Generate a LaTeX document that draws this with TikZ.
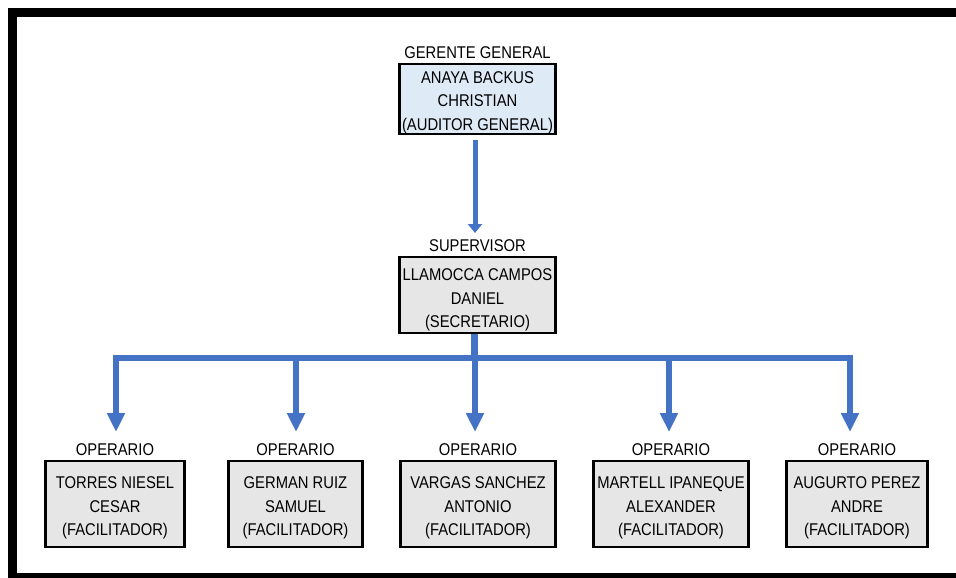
\documentclass[tikz,border=0pt]{standalone}
\usepackage{fontspec}
\setmainfont[FakeStretch=0.87]{Liberation Sans}
\usetikzlibrary{arrows.meta}
\definecolor{linkblue}{HTML}{4472C4}
\definecolor{headfill}{HTML}{DEEBF7}
\definecolor{staffill}{HTML}{E7E6E6}
\tikzset{
  txt/.style={font=\fontsize{17pt}{23.5pt}\selectfont, align=center, inner sep=0pt},
  card/.style={draw=black, line width=2.6pt, inner sep=0pt},
  headcard/.style={card, fill=headfill},
  staffcard/.style={card, fill=staffill},
  role/.style={txt, anchor=base},
  mainlink/.style={draw=linkblue, line width=5pt, -{Triangle[width=14pt,length=9pt]}},
  branchlink/.style={draw=linkblue, line width=6.5pt, line join=miter,
    -{Triangle[width=17pt,length=19pt]}},
}
\begin{document}
\begin{tikzpicture}[x=1pt, y=-1pt]
\clip (0,0) rectangle (956,578);
\fill[white] (0,0) rectangle (956,578);
% outer frame (its right side lies past the page edge)
\draw[line width=9pt] (12.5,12.5) rectangle (970,577.5);

% management
\node[headcard, minimum width=156pt, minimum height=70pt] (gerente) at (477.5,99) {};
\node[txt] (gerenteText) at ([yshift=-3.5pt]gerente.center)
  {ANAYA BACKUS\\CHRISTIAN\\(AUDITOR GENERAL)};
\node[role] (gerenteRole) at ([yshift=4.5pt]gerente.north) {GERENTE GENERAL};

\node[staffcard, minimum width=156pt, minimum height=76pt] (super) at (477.5,295) {};
\node[txt] (superText) at ([yshift=-5pt]super.center)
  {LLAMOCCA CAMPOS\\DANIEL\\(SECRETARIO)};
\node[role] (superRole) at ([yshift=4.5pt]super.north) {SUPERVISOR};

% operators
\node[staffcard, minimum width=139pt, minimum height=86pt] (op1) at (115,504) {};
\node[staffcard, minimum width=134pt, minimum height=86pt] (op2) at (295.5,504) {};
\node[staffcard, minimum width=155pt, minimum height=86pt] (op3) at (478,504) {};
\node[staffcard, minimum width=155pt, minimum height=86pt] (op4) at (671,504) {};
\node[staffcard, minimum width=141pt, minimum height=86pt] (op5) at (857,504) {};
\node[txt] (op1Text) at ([yshift=-4pt]op1.center) {TORRES NIESEL\\CESAR\\(FACILITADOR)};
\node[txt] (op2Text) at ([yshift=-4pt]op2.center) {GERMAN RUIZ\\SAMUEL\\(FACILITADOR)};
\node[txt] (op3Text) at ([yshift=-4pt]op3.center) {VARGAS SANCHEZ\\ANTONIO\\(FACILITADOR)};
\node[txt] (op4Text) at ([yshift=-4pt]op4.center) {MARTELL IPANEQUE\\ALEXANDER\\(FACILITADOR)};
\node[txt] (op5Text) at ([yshift=-4pt]op5.center) {AUGURTO PEREZ\\ANDRE\\(FACILITADOR)};
\foreach \i in {1,...,5}
  \node[role] (op\i Role) at ([yshift=4.5pt]op\i.north) {OPERARIO};

% arrow tips above each operator
\coordinate (tip1) at (116,432);
\coordinate (tip2) at (296,432);
\coordinate (tip3) at (475,432);
\coordinate (tip4) at (669,432);
\coordinate (tip5) at (850,432);
\coordinate (bus) at (0,358);
\coordinate (superTip) at (475,233);

% connectors
\draw[mainlink] ([xshift=-2.5pt,yshift=-5pt]gerente.south) -- (superTip);
\foreach \i in {1,...,5}
  \draw[branchlink] ([xshift=-3pt]super.south) -- ([xshift=-3pt]super.south |- bus) -| (tip\i);
\end{tikzpicture}
\end{document}
